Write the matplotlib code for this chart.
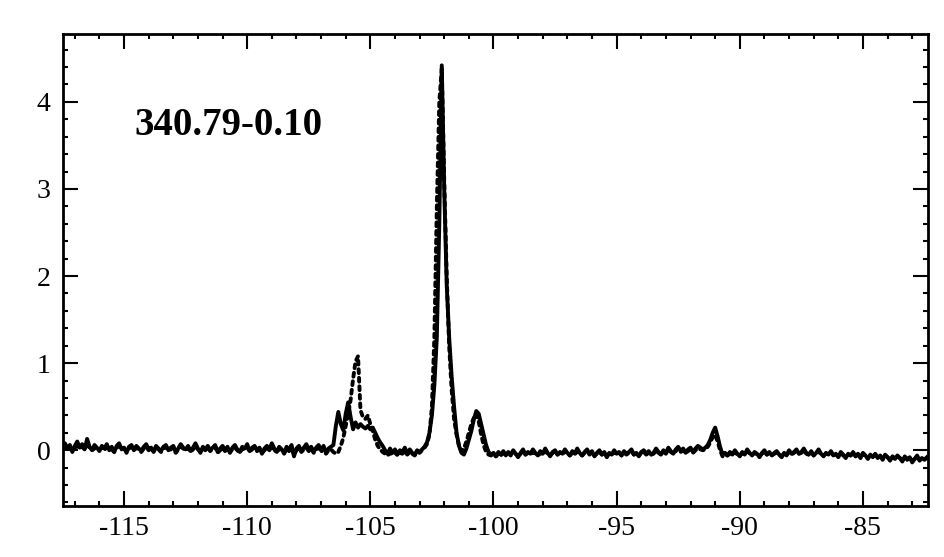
import numpy as np
import matplotlib
matplotlib.use("Agg")
import matplotlib.pyplot as plt
from matplotlib.ticker import MultipleLocator

# velocity channels (km/s), 0.1 km/s steps from -117.5 to -82.4
v_start = -117.5
v_step = 0.1

# solid spectrum, one row per 1 km/s (10 channels)
solid = [
    0.04, 0.08, 0.02, 0.06, -0.02, 0.05, 0.10, 0.03, 0.07, 0.01,
    0.13, 0.04, 0.00, 0.06, 0.03, -0.01, 0.05, 0.02, 0.07, 0.00,
    0.04, -0.02, 0.05, 0.08, 0.01, 0.03, -0.03, 0.04, 0.06, 0.00,
    0.05, 0.02, -0.01, 0.04, 0.07, 0.01, 0.03, -0.02, 0.05, 0.02,
    -0.01, 0.04, 0.06, 0.00, 0.03, 0.05, -0.02, 0.02, 0.07, 0.03,
    0.01, 0.05, -0.01, 0.03, 0.08, 0.02, -0.03, 0.04, 0.01, 0.05,
    0.00, 0.03, 0.06, -0.02, 0.02, 0.05, 0.00, 0.04, -0.03, 0.03,
    0.06, 0.01, -0.02, 0.04, 0.02, 0.07, -0.01, 0.03, 0.05, 0.00,
    0.03, -0.04, 0.02, 0.05, 0.01, 0.08, 0.02, -0.02, 0.04, 0.01,
    -0.03, 0.04, 0.00, 0.06, -0.07, 0.02, 0.05, -0.01, 0.03, 0.07,
    0.01, 0.04, -0.02, 0.03, 0.06, 0.00, 0.05, -0.03, 0.02, 0.04,
    0.06, 0.28, 0.44, 0.30, 0.23, 0.42, 0.55, 0.38, 0.24, 0.32,
    0.26, 0.30, 0.27, 0.25, 0.28, 0.24, 0.26, 0.20, 0.14, 0.09,
    0.05, 0.00, -0.04, 0.02, -0.03, 0.01, -0.05, 0.00, -0.02, 0.03,
    -0.04, 0.01, -0.03, -0.05, 0.00, -0.02, 0.01, 0.04, 0.09, 0.20,
    0.40, 0.75, 1.30, 2.60, 4.42, 3.00, 1.90, 1.30, 0.85, 0.50,
    0.20, 0.05, -0.03, -0.05, 0.02, 0.12, 0.22, 0.35, 0.45, 0.42,
    0.30, 0.18, 0.06, -0.02, -0.05, -0.03, -0.07, -0.02, -0.05, -0.01,
    -0.06, -0.02, -0.05, 0.00, -0.04, -0.08, -0.03, 0.01, -0.05, -0.02,
    -0.04, 0.01, -0.03, -0.06, -0.01, -0.04, 0.02, -0.03, -0.07, -0.02,
    0.00, -0.05, -0.02, -0.04, 0.01, -0.03, -0.06, -0.01, -0.04, 0.02,
    -0.03, -0.06, -0.02, 0.01, -0.04, -0.01, -0.07, -0.03, 0.00, -0.05,
    -0.02, -0.08, -0.03, -0.05, 0.00, -0.04, -0.02, -0.06, -0.01, -0.04,
    -0.02, 0.01, -0.05, -0.03, -0.07, -0.02, 0.00, -0.04, -0.01, -0.05,
    -0.03, 0.02, -0.02, -0.05, 0.00, -0.03, 0.03, -0.01, -0.04, 0.01,
    0.04, -0.01, 0.02, -0.03, 0.01, 0.03, -0.02, 0.02, 0.05, 0.03,
    0.01, 0.03, 0.06, 0.12, 0.20, 0.26, 0.16, 0.04, -0.05, -0.03,
    -0.06, -0.02, -0.05, 0.00, -0.04, -0.07, -0.02, -0.05, 0.01, -0.03,
    -0.06, -0.02, -0.04, -0.08, -0.03, 0.00, -0.05, -0.02, -0.06, -0.03,
    -0.01, -0.05, -0.08, -0.03, -0.06, 0.00, -0.04, -0.02, 0.01, -0.04,
    -0.02, 0.02, -0.03, -0.05, -0.01, -0.06, -0.03, 0.01, -0.04, -0.07,
    -0.03, -0.05, -0.01, -0.06, -0.04, -0.08, -0.02, -0.05, -0.09, -0.04,
    -0.06, -0.02, -0.07, -0.04, -0.09, -0.03, -0.06, -0.10, -0.05, -0.08,
    -0.04, -0.09, -0.06, -0.11, -0.05, -0.08, -0.12, -0.07, -0.10, -0.06,
    -0.09, -0.13, -0.07, -0.11, -0.08, -0.14, -0.10, -0.06, -0.12, -0.09,
    -0.11, -0.08,
]

# dotted spectrum, same channels
dotted = [
    0.02, 0.04, 0.01, 0.03, 0.00, 0.03, 0.05, 0.02, 0.04, 0.01,
    0.06, 0.03, 0.00, 0.02, 0.04, 0.01, 0.03, 0.00, 0.04, 0.02,
    0.01, -0.02, 0.03, 0.05, 0.01, 0.02, -0.01, 0.02, 0.04, 0.00,
    0.03, 0.01, -0.02, 0.02, 0.04, 0.00, 0.02, -0.01, 0.03, 0.01,
    -0.02, 0.02, 0.04, 0.00, 0.01, 0.03, -0.03, 0.01, 0.04, 0.02,
    0.00, 0.03, -0.02, 0.01, 0.05, 0.01, -0.02, 0.02, 0.00, 0.03,
    -0.01, 0.02, 0.04, -0.03, 0.00, 0.03, -0.01, 0.02, -0.02, 0.01,
    0.03, 0.00, -0.03, 0.02, 0.01, 0.04, -0.02, 0.01, 0.03, -0.01,
    0.01, -0.03, 0.00, 0.03, 0.00, 0.05, 0.01, -0.03, 0.02, 0.00,
    -0.04, 0.02, -0.01, 0.03, -0.05, 0.00, 0.03, -0.02, 0.01, 0.03,
    -0.01, 0.02, -0.03, 0.01, 0.03, -0.02, 0.02, -0.04, 0.00, 0.01,
    -0.02, -0.04, -0.02, 0.05, 0.14, 0.28, 0.42, 0.58, 0.82, 1.02,
    1.08, 0.46, 0.38, 0.36, 0.40, 0.30, 0.22, 0.12, 0.05, 0.01,
    -0.02, -0.04, -0.06, -0.03, -0.05, -0.02, -0.06, -0.03, -0.04, -0.01,
    -0.05, -0.02, -0.04, -0.06, -0.02, -0.03, 0.00, 0.03, 0.07, 0.18,
    0.50, 1.30, 2.80, 4.00, 4.38, 3.10, 2.00, 1.20, 0.70, 0.36,
    0.18, 0.05, -0.01, 0.02, 0.10, 0.20, 0.30, 0.37, 0.42, 0.33,
    0.18, 0.06, -0.02, -0.05, -0.06, -0.04, -0.07, -0.04, -0.06, -0.03,
    -0.05, -0.03, -0.06, -0.02, -0.04, -0.07, -0.04, -0.01, -0.05, -0.03,
    -0.05, -0.02, -0.04, -0.06, -0.03, -0.05, -0.01, -0.04, -0.06, -0.03,
    -0.02, -0.05, -0.03, -0.05, -0.01, -0.04, -0.06, -0.03, -0.05, -0.01,
    -0.04, -0.06, -0.03, -0.01, -0.05, -0.03, -0.06, -0.04, -0.02, -0.05,
    -0.03, -0.07, -0.04, -0.05, -0.02, -0.05, -0.03, -0.06, -0.03, -0.05,
    -0.03, -0.01, -0.05, -0.04, -0.06, -0.03, -0.02, -0.05, -0.03, -0.05,
    -0.04, 0.00, -0.03, -0.05, -0.02, -0.04, 0.01, -0.02, -0.04, -0.01,
    0.02, -0.02, 0.00, -0.03, -0.01, 0.01, -0.03, 0.00, 0.02, 0.01,
    0.00, 0.01, 0.04, 0.09, 0.15, 0.18, 0.10, 0.00, -0.07, -0.05,
    -0.06, -0.04, -0.05, -0.02, -0.05, -0.06, -0.03, -0.05, -0.01, -0.04,
    -0.05, -0.03, -0.05, -0.07, -0.04, -0.02, -0.05, -0.03, -0.06, -0.04,
    -0.03, -0.05, -0.07, -0.04, -0.05, -0.02, -0.05, -0.03, -0.01, -0.04,
    -0.03, 0.00, -0.04, -0.05, -0.02, -0.06, -0.04, -0.01, -0.05, -0.06,
    -0.04, -0.05, -0.02, -0.06, -0.05, -0.07, -0.03, -0.06, -0.08, -0.05,
    -0.06, -0.04, -0.07, -0.05, -0.08, -0.04, -0.07, -0.09, -0.06, -0.08,
    -0.05, -0.08, -0.07, -0.10, -0.06, -0.08, -0.11, -0.08, -0.09, -0.07,
    -0.09, -0.11, -0.08, -0.10, -0.09, -0.12, -0.10, -0.07, -0.11, -0.09,
    -0.10, -0.09,
]

label = "340.79-0.10"
x_ticks = [-115, -110, -105, -100, -95, -90, -85]
y_ticks = [0, 1, 2, 3, 4]

vel = v_start + v_step * np.arange(len(solid))

plt.rcParams['font.family'] = ['Liberation Serif', 'DejaVu Serif']

fig = plt.figure(figsize=(9.44, 5.57), dpi=100)
ax = fig.add_axes([0.0667, 0.0916, 0.9163, 0.8474])

ax.plot(vel, dotted, color='black', lw=2.8, linestyle=(0, (1, 1.2)),
        dash_capstyle='round')
ax.plot(vel, solid, color='black', lw=2.8)

ax.set_xlim(-117.48, -82.36)
ax.set_ylim(-0.64, 4.78)
ax.set_xticks(x_ticks)
ax.set_xticklabels([str(t) for t in x_ticks])
ax.set_yticks(y_ticks)
ax.xaxis.set_minor_locator(MultipleLocator(1))
ax.yaxis.set_minor_locator(MultipleLocator(0.2))

ax.tick_params(which='both', direction='in', top=True, right=True,
               width=1.5, labelsize=20)
ax.tick_params(which='major', length=11)
ax.tick_params(which='minor', length=3.5)
ax.tick_params(axis='x', pad=7)
ax.tick_params(axis='y', pad=9)
for sp in ax.spines.values():
    sp.set_linewidth(2)

ax.text(0.083, 0.786, label, transform=ax.transAxes, fontsize=28,
        fontweight='bold', ha='left', va='baseline')

fig.savefig('out.png', dpi=100)
